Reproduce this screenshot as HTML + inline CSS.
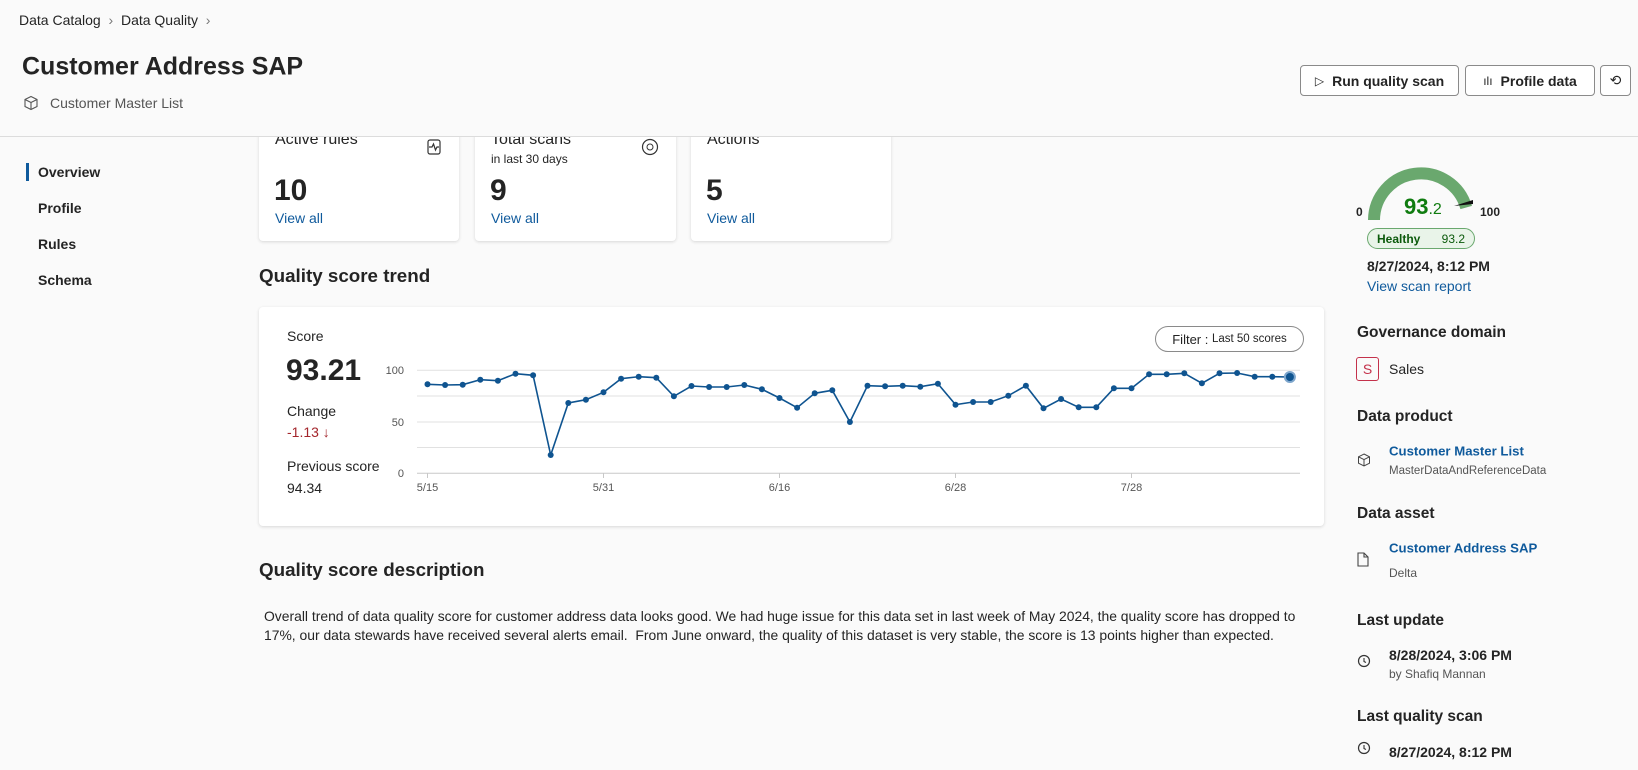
<!DOCTYPE html>
<html><head><meta charset="utf-8">
<style>
*{margin:0;padding:0;box-sizing:border-box}
body{width:1638px;height:770px;background:#fafafa;font-family:"Liberation Sans",sans-serif;color:#242424;position:relative;overflow:hidden}
.a{position:absolute;white-space:nowrap}
.card{position:absolute;background:#fff;border-radius:4px;box-shadow:0 1px 3px rgba(0,0,0,.14)}
.btn{position:absolute;background:#fff;border:1px solid #8a8a8a;border-radius:4px;font-size:14px;font-weight:bold;display:flex;align-items:center;justify-content:center;gap:8px}
.h{font-size:15.5px;font-weight:bold;color:#242424}
.lk{color:#0f5a9c}
.t{transform:translateY(-50%)}
</style></head><body>
<div class="card" style="left:259px;top:110px;width:200px;height:131px"></div>
<div class="card" style="left:475px;top:110px;width:201px;height:131px"></div>
<div class="card" style="left:691px;top:110px;width:200px;height:131px"></div>
<div class="a t" style="left:275px;top:140px;font-size:16px">Active rules</div>
<div class="a t" style="left:491px;top:140px;font-size:16px">Total scans</div>
<div class="a t" style="left:491px;top:159px;font-size:12px">in last 30 days</div>
<div class="a t" style="left:707px;top:140px;font-size:16px">Actions</div>
<div class="a t" style="left:274px;top:191px;font-size:30px;font-weight:bold">10</div>
<div class="a t" style="left:490px;top:191px;font-size:30px;font-weight:bold">9</div>
<div class="a t" style="left:706px;top:191px;font-size:30px;font-weight:bold">5</div>
<div class="a t lk" style="left:275px;top:218px;font-size:14px">View all</div>
<div class="a t lk" style="left:491px;top:218px;font-size:14px">View all</div>
<div class="a t lk" style="left:707px;top:218px;font-size:14px">View all</div>
<svg class="a" style="left:426px;top:138px" width="16" height="18" viewBox="0 0 16 18"><rect x="2" y="2" width="12" height="14" rx="2" fill="none" stroke="#333" stroke-width="1.2"/><path d="M3 9h3l1.5-3 2 6 1.5-3h2" fill="none" stroke="#333" stroke-width="1.2"/></svg>
<svg class="a" style="left:641px;top:138px" width="18" height="18"><circle cx="9" cy="9" r="7.5" fill="none" stroke="#333" stroke-width="1.2"/><circle cx="9" cy="9" r="3" fill="none" stroke="#333" stroke-width="1"/></svg>

<!-- header -->
<div class="a" style="left:0;top:0;width:1638px;height:137px;background:#fafafa;border-bottom:1px solid #dcdcdc"></div>
<div class="a t" style="left:19px;top:20px;font-size:14px">Data Catalog <span style="color:#777">&nbsp;›&nbsp;</span> Data Quality <span style="color:#777">&nbsp;›</span></div>
<div class="a t" style="left:22px;top:67px;font-size:25px;font-weight:bold">Customer Address SAP</div>
<svg class="a" style="left:23px;top:95px" width="16" height="16"><path d="M8 1.5l6 3v7l-6 3-6-3v-7z M2 4.5l6 3 6-3 M8 7.5v7" fill="none" stroke="#555" stroke-width="1.1"/></svg>
<div class="a t" style="left:50px;top:103px;font-size:14px;color:#555">Customer Master List</div>
<div class="btn" style="left:1300px;top:65px;width:159px;height:31px"><span style="font-weight:normal;font-size:12px">▷</span>Run quality scan</div>
<div class="btn" style="left:1465px;top:65px;width:130px;height:31px"><span style="font-weight:normal;font-size:12px">ılı</span>Profile data</div>
<div class="btn" style="left:1600px;top:65px;width:31px;height:31px;font-weight:normal">⟲</div>

<!-- nav -->
<div class="a" style="left:26px;top:163px;width:3px;height:18px;background:#0f5a9c"></div>
<div class="a t" style="left:38px;top:172px;font-size:14px;font-weight:bold">Overview</div>
<div class="a t" style="left:38px;top:208px;font-size:14px;font-weight:bold">Profile</div>
<div class="a t" style="left:38px;top:244px;font-size:14px;font-weight:bold">Rules</div>
<div class="a t" style="left:38px;top:280px;font-size:14px;font-weight:bold">Schema</div>

<div class="a t" style="left:259px;top:276px;font-size:18.8px;font-weight:bold">Quality score trend</div>
<div class="card" style="left:259px;top:307px;width:1065px;height:219px"></div>
<div class="a t" style="left:287px;top:336px;font-size:14px">Score</div>
<div class="a t" style="left:286px;top:371px;font-size:30px;font-weight:bold">93.21</div>
<div class="a t" style="left:287px;top:411px;font-size:14px">Change</div>
<div class="a t" style="left:287px;top:432px;font-size:14px;color:#a4262c">-1.13 ↓</div>
<div class="a t" style="left:287px;top:466px;font-size:14px">Previous score</div>
<div class="a t" style="left:287px;top:488px;font-size:14px">94.34</div>
<div class="a" style="left:1155px;top:326px;width:149px;height:26px;border:1px solid #8a8a8a;border-radius:13px;font-size:13px;display:flex;align-items:center;justify-content:center">Filter :&nbsp;<span style="font-size:11.5px">Last 50 scores</span></div>
<svg class="a" style="left:0;top:0" width="1638" height="770" id="ch">
<g stroke="#e1e1e1" stroke-width="1">
<line x1="417" x2="1300" y1="370.3" y2="370.3"/><line x1="417" x2="1300" y1="396" y2="396"/><line x1="417" x2="1300" y1="422" y2="422"/><line x1="417" x2="1300" y1="447.5" y2="447.5"/></g>
<line x1="417" x2="1300" y1="473.3" y2="473.3" stroke="#c8c8c8"/>
<g font-size="11" fill="#555" text-anchor="end"><text x="404" y="374">100</text><text x="404" y="426">50</text><text x="404" y="477">0</text></g>
<g font-size="11" fill="#555" text-anchor="middle"><text x="427.5" y="491">5/15</text><text x="603.5" y="491">5/31</text><text x="779.5" y="491">6/16</text><text x="955.5" y="491">6/28</text><text x="1131.5" y="491">7/28</text></g>
<g stroke="#c8c8c8"><line x1="427.5" x2="427.5" y1="473" y2="478"/><line x1="603.5" x2="603.5" y1="473" y2="478"/><line x1="779.5" x2="779.5" y1="473" y2="478"/><line x1="955.5" x2="955.5" y1="473" y2="478"/><line x1="1131.5" x2="1131.5" y1="473" y2="478"/></g>
</svg>

<div class="a t" style="left:259px;top:570px;font-size:18.8px;font-weight:bold">Quality score description</div>
<div class="a" style="left:264px;top:607px;width:1062px;font-size:13.9px;line-height:18.5px;white-space:normal">Overall trend of data quality score for customer address data looks good. We had huge issue for this data set in last week of May 2024, the quality score has dropped to 17%, our data stewards have received several alerts email.&nbsp; From June onward, the quality of this dataset is very stable, the score is 13 points higher than expected.</div>

<!-- gauge -->
<svg class="a" style="left:1340px;top:150px" width="180" height="80">
<path d="M34 70 A47 47 0 0 1 126.2 57.5" fill="none" stroke="#6aa86e" stroke-width="12"/>
<path d="M114 56 L133 50 L133 54 Z" fill="#111"/>
</svg>
<div class="a t" style="left:1356px;top:212px;font-size:12px;font-weight:bold">0</div>
<div class="a t" style="left:1480px;top:212px;font-size:12px;font-weight:bold">100</div>
<div class="a t" style="left:1404px;top:207px;color:#107c10"><span style="font-size:22px;font-weight:bold">93</span><span style="font-size:16px">.2</span></div>
<div class="a" style="left:1367px;top:228px;width:108px;height:21px;border:1px solid #6aa86e;background:#e9f4e9;border-radius:11px;font-size:12px;color:#0b5a0b;display:flex;align-items:center;justify-content:space-between;padding:0 9px"><b>Healthy</b><span>93.2</span></div>
<div class="a t" style="left:1367px;top:266px;font-size:14px;font-weight:bold">8/27/2024, 8:12 PM</div>
<div class="a t lk" style="left:1367px;top:286px;font-size:14px">View scan report</div>

<div class="a t h" style="left:1357px;top:333px">Governance domain</div>
<div class="a" style="left:1356px;top:357px;width:23px;height:24px;border:1px solid #c4314b;border-radius:3px;color:#c4314b;font-size:14px;display:flex;align-items:center;justify-content:center">S</div>
<div class="a t" style="left:1389px;top:369px;font-size:14px">Sales</div>
<div class="a t h" style="left:1357px;top:417px">Data product</div>
<svg class="a" style="left:1357px;top:453px" width="14" height="14"><path d="M7 1l5.5 2.8v6.4L7 13 1.5 10.2V3.8z M1.5 3.8L7 6.6l5.5-2.8 M7 6.6V13" fill="none" stroke="#444" stroke-width="1"/></svg>
<div class="a t lk" style="left:1389px;top:451px;font-size:13.2px;font-weight:bold">Customer Master List</div>
<div class="a t" style="left:1389px;top:471px;font-size:11.5px;color:#555">MasterDataAndReferenceData</div>
<div class="a t h" style="left:1357px;top:514px">Data asset</div>
<svg class="a" style="left:1357px;top:552px" width="12" height="15"><path d="M1 1h6l4 4v9H1z M7 1v4h4" fill="none" stroke="#444" stroke-width="1.1"/></svg>
<div class="a t lk" style="left:1389px;top:548px;font-size:13.2px;font-weight:bold">Customer Address SAP</div>
<div class="a t" style="left:1389px;top:573px;font-size:12px;color:#555">Delta</div>
<div class="a t h" style="left:1357px;top:621px">Last update</div>
<svg class="a" style="left:1357px;top:654px" width="14" height="14"><circle cx="7" cy="7" r="5.5" fill="none" stroke="#333" stroke-width="1.2"/><path d="M7 4v3.5l2 1" fill="none" stroke="#333" stroke-width="1.1"/></svg>
<div class="a t" style="left:1389px;top:655px;font-size:14px;font-weight:bold">8/28/2024, 3:06 PM</div>
<div class="a t" style="left:1389px;top:674px;font-size:12px;color:#555">by Shafiq Mannan</div>
<div class="a t h" style="left:1357px;top:717px">Last quality scan</div>
<svg class="a" style="left:1357px;top:741px" width="14" height="14"><circle cx="7" cy="7" r="5.5" fill="none" stroke="#333" stroke-width="1.2"/><path d="M7 4v3.5l2 1" fill="none" stroke="#333" stroke-width="1.1"/></svg>
<div class="a t" style="left:1389px;top:752px;font-size:14px;font-weight:bold">8/27/2024, 8:12 PM</div>

<script>
var ys=[384.3,385,384.7,379.7,380.7,373.7,375.3,455,403,399.7,392.3,378.7,376.7,377.7,396.3,386,387,387,385,389.3,398,407.7,393.3,390.3,422,385.7,386.3,385.7,386.7,383.7,404.7,402,402,395.7,385.7,408.3,399,407.3,407.3,388.3,388.3,374.3,374.3,373.3,383.3,373.3,373,376.7,376.7,377];
var s=document.getElementById('ch'),ns='http://www.w3.org/2000/svg',pts=[];
ys.forEach(function(y,i){pts.push((427.5+i*17.6).toFixed(1)+','+y);});
var pl=document.createElementNS(ns,'polyline');pl.setAttribute('points',pts.join(' '));pl.setAttribute('fill','none');pl.setAttribute('stroke','#0f5490');pl.setAttribute('stroke-width','1.6');s.appendChild(pl);
ys.forEach(function(y,i){var c=document.createElementNS(ns,'circle');c.setAttribute('cx',(427.5+i*17.6).toFixed(1));c.setAttribute('cy',y);c.setAttribute('r',i==49?5:3);c.setAttribute('fill','#0f5490');if(i==49){c.setAttribute('stroke','#7ea6cc');c.setAttribute('stroke-width','2');}s.appendChild(c);});
</script>
</body></html>
